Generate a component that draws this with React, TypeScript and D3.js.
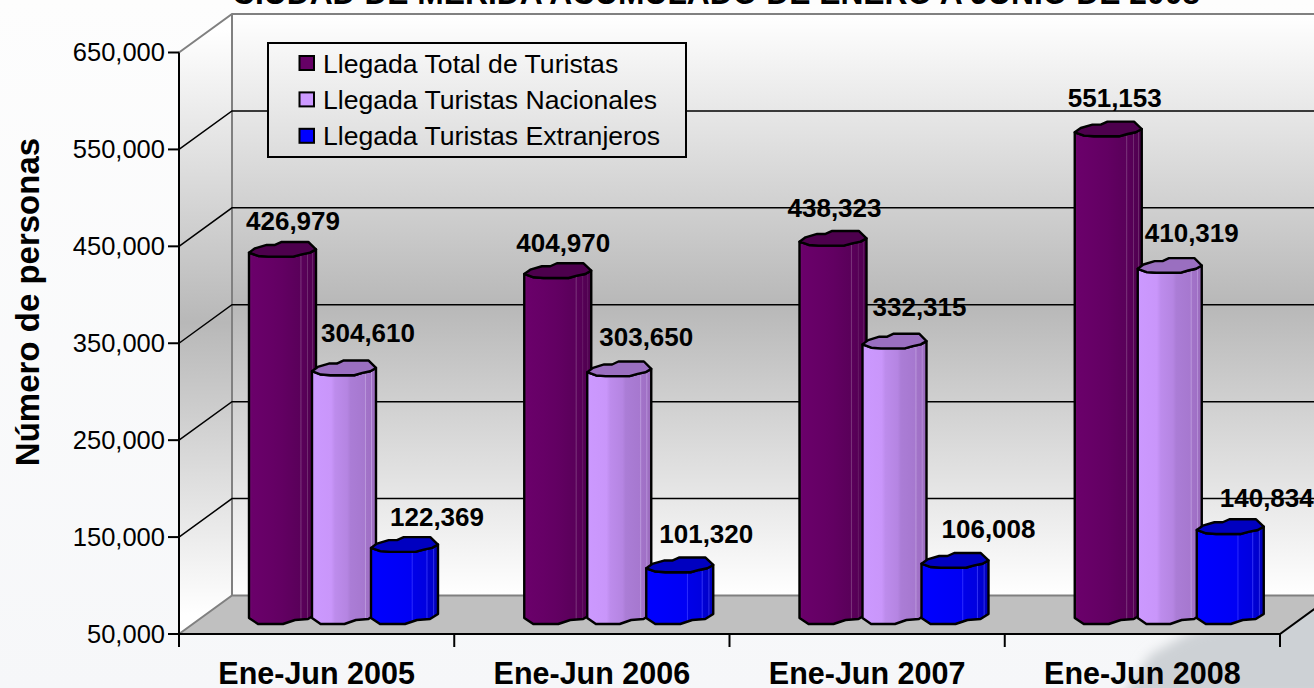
import React from "react";
import * as d3 from "d3";

const categories = ["Ene-Jun 2005", "Ene-Jun 2006", "Ene-Jun 2007", "Ene-Jun 2008"];
const seriesNames = ["Llegada Total de Turistas", "Llegada Turistas Nacionales", "Llegada Turistas Extranjeros"];
const totalValues = [426979, 404970, 438323, 551153];
const nacionalValues = [304610, 303650, 332315, 410319];
const extranjeroValues = [122369, 101320, 106008, 140834];
const yTicks = [50000, 150000, 250000, 350000, 450000, 550000, 650000];
const titleText = "CIUDAD DE MERIDA ACUMULADO DE ENERO A JUNIO DE 2008";

const W = 1314, H = 688;
const FONT = "'Liberation Sans', Arial, sans-serif";
const DX = 53, DY = -38.5;
const BAR_SHIFT = -16;
const y = d3.scaleLinear().domain([50000, 650000]).range([634, 52.5]);
const x = d3.scaleBand<string>().domain(categories).range([179, 1280]);

const allSeries = [totalValues, nacionalValues, extranjeroValues];
const barOffset = [70, 133, 192];
const barWidth = [67, 64, 67];
const faceStops = [
  [
    [0, "#6e0a6e"], [0.05, "#6a006a"], [0.3, "#660066"], [0.5, "#620062"], [0.76, "#5a005a"], [0.775, "#7a357a"], [0.79, "#5a005a"],
    [0.865, "#560056"], [0.875, "#763576"], [0.885, "#540054"], [0.94, "#520052"], [0.95, "#703070"], [0.96, "#500050"], [1, "#4d004d"],
  ],
  [
    [0, "#cc99ff"], [0.3, "#c996fa"], [0.36, "#bd8cec"], [0.55, "#b585e2"], [0.6, "#ab7dd6"], [0.82, "#a678cf"], [0.835, "#bb98dc"],
    [0.85, "#a273c8"], [0.92, "#a070c6"], [0.93, "#bb98dc"], [0.945, "#9e6fc2"], [1, "#9a6bbc"],
  ],
  [
    [0, "#0000ff"], [0.6, "#0000f4"], [0.615, "#2a2aff"], [0.63, "#0000e8"], [0.82, "#0000e0"], [0.835, "#3030f4"], [0.85, "#0000d4"],
    [0.92, "#0000cc"], [0.935, "#3030e8"], [0.95, "#0000c0"], [1, "#0000b8"],
  ],
];
const capColors = ["#4d004d", "#9a6fc0", "#0000c0"];
const legendColors = ["#660066", "#cc99ff", "#0000ff"];
const labelNudge = [
  [[-3, -22.8], [9, -29.2], [19, -21.8]],
  [[-8, -22], [12, -26.2], [13, -25.2]],
  [[-12, -24.6], [10, -28.4], [20, -25.7]],
  [[-7, -25.2], [7, -26.9], [23, -22.9]],
];

const capShape: [number, number][] = [[0, 0], [6, -4.3], [17.7, -7.7], [26, -7.7], [32.7, -10.7], [59.3, -10.7], [67, -3.3], [61, 0], [52.7, 1.7], [44.3, 4], [19.3, 4], [9.3, 3.3]];
const bottomShape: [number, number][] = [[0, 0], [9, 6], [34, 6], [46, 2], [59, 1], [67, -4]];
const polyLine = d3.line();
const fmt = d3.format(",");

function Bar({ s, g }: { s: number; g: number }) {
  const v = allSeries[s][g];
  const left = (x(categories[g]) as number) + barOffset[s];
  const w = barWidth[s];
  const k = w / 67;
  const top = y(v) + BAR_SHIFT;
  const base = y(50000) + BAR_SHIFT;
  const capPts = capShape.map(([a, b]) => [left + a * k, top + b] as [number, number]);
  const bottomPts = bottomShape.map(([a, b]) => [left + a * k, base + b] as [number, number]);
  const rightTop: [number, number] = [left + w, top - 3.3];
  const leftTop: [number, number] = [left, top];
  const lowerCap = capShape.slice(6).map(([a, b]) => [left + a * k, top + b] as [number, number]);
  const body = [leftTop, ...bottomPts, rightTop, ...lowerCap];
  return (
    <g>
      <path d={polyLine(body)! + "Z"} fill={`url(#face${s})`} stroke="#000" strokeWidth={2.4} strokeLinejoin="round" />
      <path d={polyLine(capPts)! + "Z"} fill={capColors[s]} stroke="#000" strokeWidth={2.4} strokeLinejoin="round" />
    </g>
  );
}

export default function App() {
  const bandStarts = categories.map((c) => x(c) as number);
  const tickXs = [...bandStarts, 1280];
  const yTop = y(650000), yBot = y(50000);
  const wallX = 179 + DX;
  return (
    <svg width={W} height={H} viewBox={`0 0 ${W} ${H}`} style={{ position: "absolute", left: 0, top: 0, display: "block" }}>
      <defs>
        <linearGradient id="wall" gradientUnits="userSpaceOnUse" x1="0" y1="14" x2="0" y2="595">
          <stop offset="0" stopColor="#ffffff" />
          <stop offset="0.5" stopColor="#b8b8b8" />
          <stop offset="1" stopColor="#ffffff" />
        </linearGradient>
        <linearGradient id="side" gradientUnits="userSpaceOnUse" x1="0" y1="30" x2="0" y2="615">
          <stop offset="0" stopColor="#ffffff" />
          <stop offset="0.5" stopColor="#b8b8b8" />
          <stop offset="1" stopColor="#ffffff" />
        </linearGradient>
        <linearGradient id="page" x1="0" y1="0" x2="0" y2="1">
          <stop offset="0" stopColor="#fdfdfd" />
          <stop offset="1" stopColor="#f6f7f9" />
        </linearGradient>
        <filter id="blur" x="-20%" y="-20%" width="140%" height="140%">
          <feGaussianBlur stdDeviation="6" />
        </filter>
        {faceStops.map((stops, i) => (
          <linearGradient key={i} id={`face${i}`} x1="0" y1="0" x2="1" y2="0">
            {stops.map(([o, c], j) => (
              <stop key={j} offset={o as number} stopColor={c as string} />
            ))}
          </linearGradient>
        ))}
      </defs>
      <rect width={W} height={H} fill="url(#page)" />
      <path d="M1330,585 L1250,618 L1190,632 L1150,655 L1120,700 L1330,700 Z" fill="#cdd1d5" filter="url(#blur)" />
      <text x={232} y={4} fontFamily={FONT} fontSize={33} fontWeight="bold" fill="#000" textLength={968} lengthAdjust="spacingAndGlyphs">{titleText}</text>

      {/* walls */}
      <path d={polyLine([[179, yTop], [wallX, yTop + DY], [wallX, yBot + DY], [179, yBot]])! + "Z"} fill="url(#side)" />
      <rect x={wallX} y={yTop + DY} width={W - wallX} height={yBot - yTop} fill="url(#wall)" />
      <path d={polyLine([[179, yBot], [wallX, yBot + DY], [1280 + DX, yBot + DY], [1280, yBot]])! + "Z"} fill="#c0c0c0" />
      <path d={polyLine([[179, yBot], [wallX, yBot + DY], [W, yBot + DY]])!} fill="none" stroke="#808080" strokeWidth={2} />
      <path d={polyLine([[179, yTop], [wallX, yTop + DY], [W, yTop + DY]])!} fill="none" stroke="#808080" strokeWidth={2} />
      <line x1={wallX} x2={wallX} y1={yTop + DY} y2={yBot + DY} stroke="#808080" strokeWidth={2} />

      {/* grid lines */}
      {yTicks.slice(1, -1).map((t) => (
        <path key={t} d={polyLine([[179, y(t)], [wallX, y(t) + DY], [W, y(t) + DY]])!} fill="none" stroke="#000" strokeWidth={1.5} />
      ))}

      {/* axes */}
      <line x1={179} x2={179} y1={yTop} y2={yBot} stroke="#000" strokeWidth={2} />
      <path d={polyLine([[179, yBot], [1280, yBot], [1280 + DX, yBot + DY]])!} fill="none" stroke="#000" strokeWidth={2} />
      {yTicks.map((t) => (
        <g key={t}>
          <line x1={168} x2={179} y1={y(t)} y2={y(t)} stroke="#000" strokeWidth={2} />
          <text x={165} y={y(t) + 8.5} textAnchor="end" fontFamily={FONT} fontSize={25.5} fill="#000">{fmt(t)}</text>
        </g>
      ))}
      {tickXs.map((tx) => (
        <line key={tx} x1={tx} x2={tx} y1={yBot} y2={yBot + 13} stroke="#000" strokeWidth={2} />
      ))}
      {categories.map((c) => (
        <text key={c} x={(x(c) as number) + x.bandwidth() / 2} y={684} textAnchor="middle" fontFamily={FONT} fontSize={30.5} fontWeight="bold" fill="#000">{c}</text>
      ))}
      <text transform="translate(39,302) rotate(-90)" textAnchor="middle" fontFamily={FONT} fontSize={33} fontWeight="bold" fill="#000">Número de personas</text>

      {/* bars */}
      {categories.map((c, g) => (
        <g key={c}>
          {allSeries.map((_, s) => (
            <Bar key={s} s={s} g={g} />
          ))}
        </g>
      ))}

      {/* value labels */}
      {categories.map((c, g) =>
        allSeries.map((vals, s) => (
          <text
            key={c + s}
            x={(x(c) as number) + barOffset[s] + labelNudge[g][s][0]}
            y={y(vals[g]) + BAR_SHIFT + labelNudge[g][s][1]}
            fontFamily={FONT}
            fontSize={26}
            fontWeight="bold"
            fill="#000"
          >
            {fmt(vals[g])}
          </text>
        ))
      )}

      {/* legend */}
      <rect x={268} y={43} width={418} height={114} fill="url(#wall)" stroke="#000" strokeWidth={2} />
      {seriesNames.map((n, i) => (
        <g key={n}>
          <rect x={299.5} y={56 + i * 36.4} width={14.5} height={14} fill={legendColors[i]} stroke="#000" strokeWidth={2} />
          <text x={323} y={72.5 + i * 36.4} fontFamily={FONT} fontSize={26.6} fill="#000">{n}</text>
        </g>
      ))}
    </svg>
  );
}
